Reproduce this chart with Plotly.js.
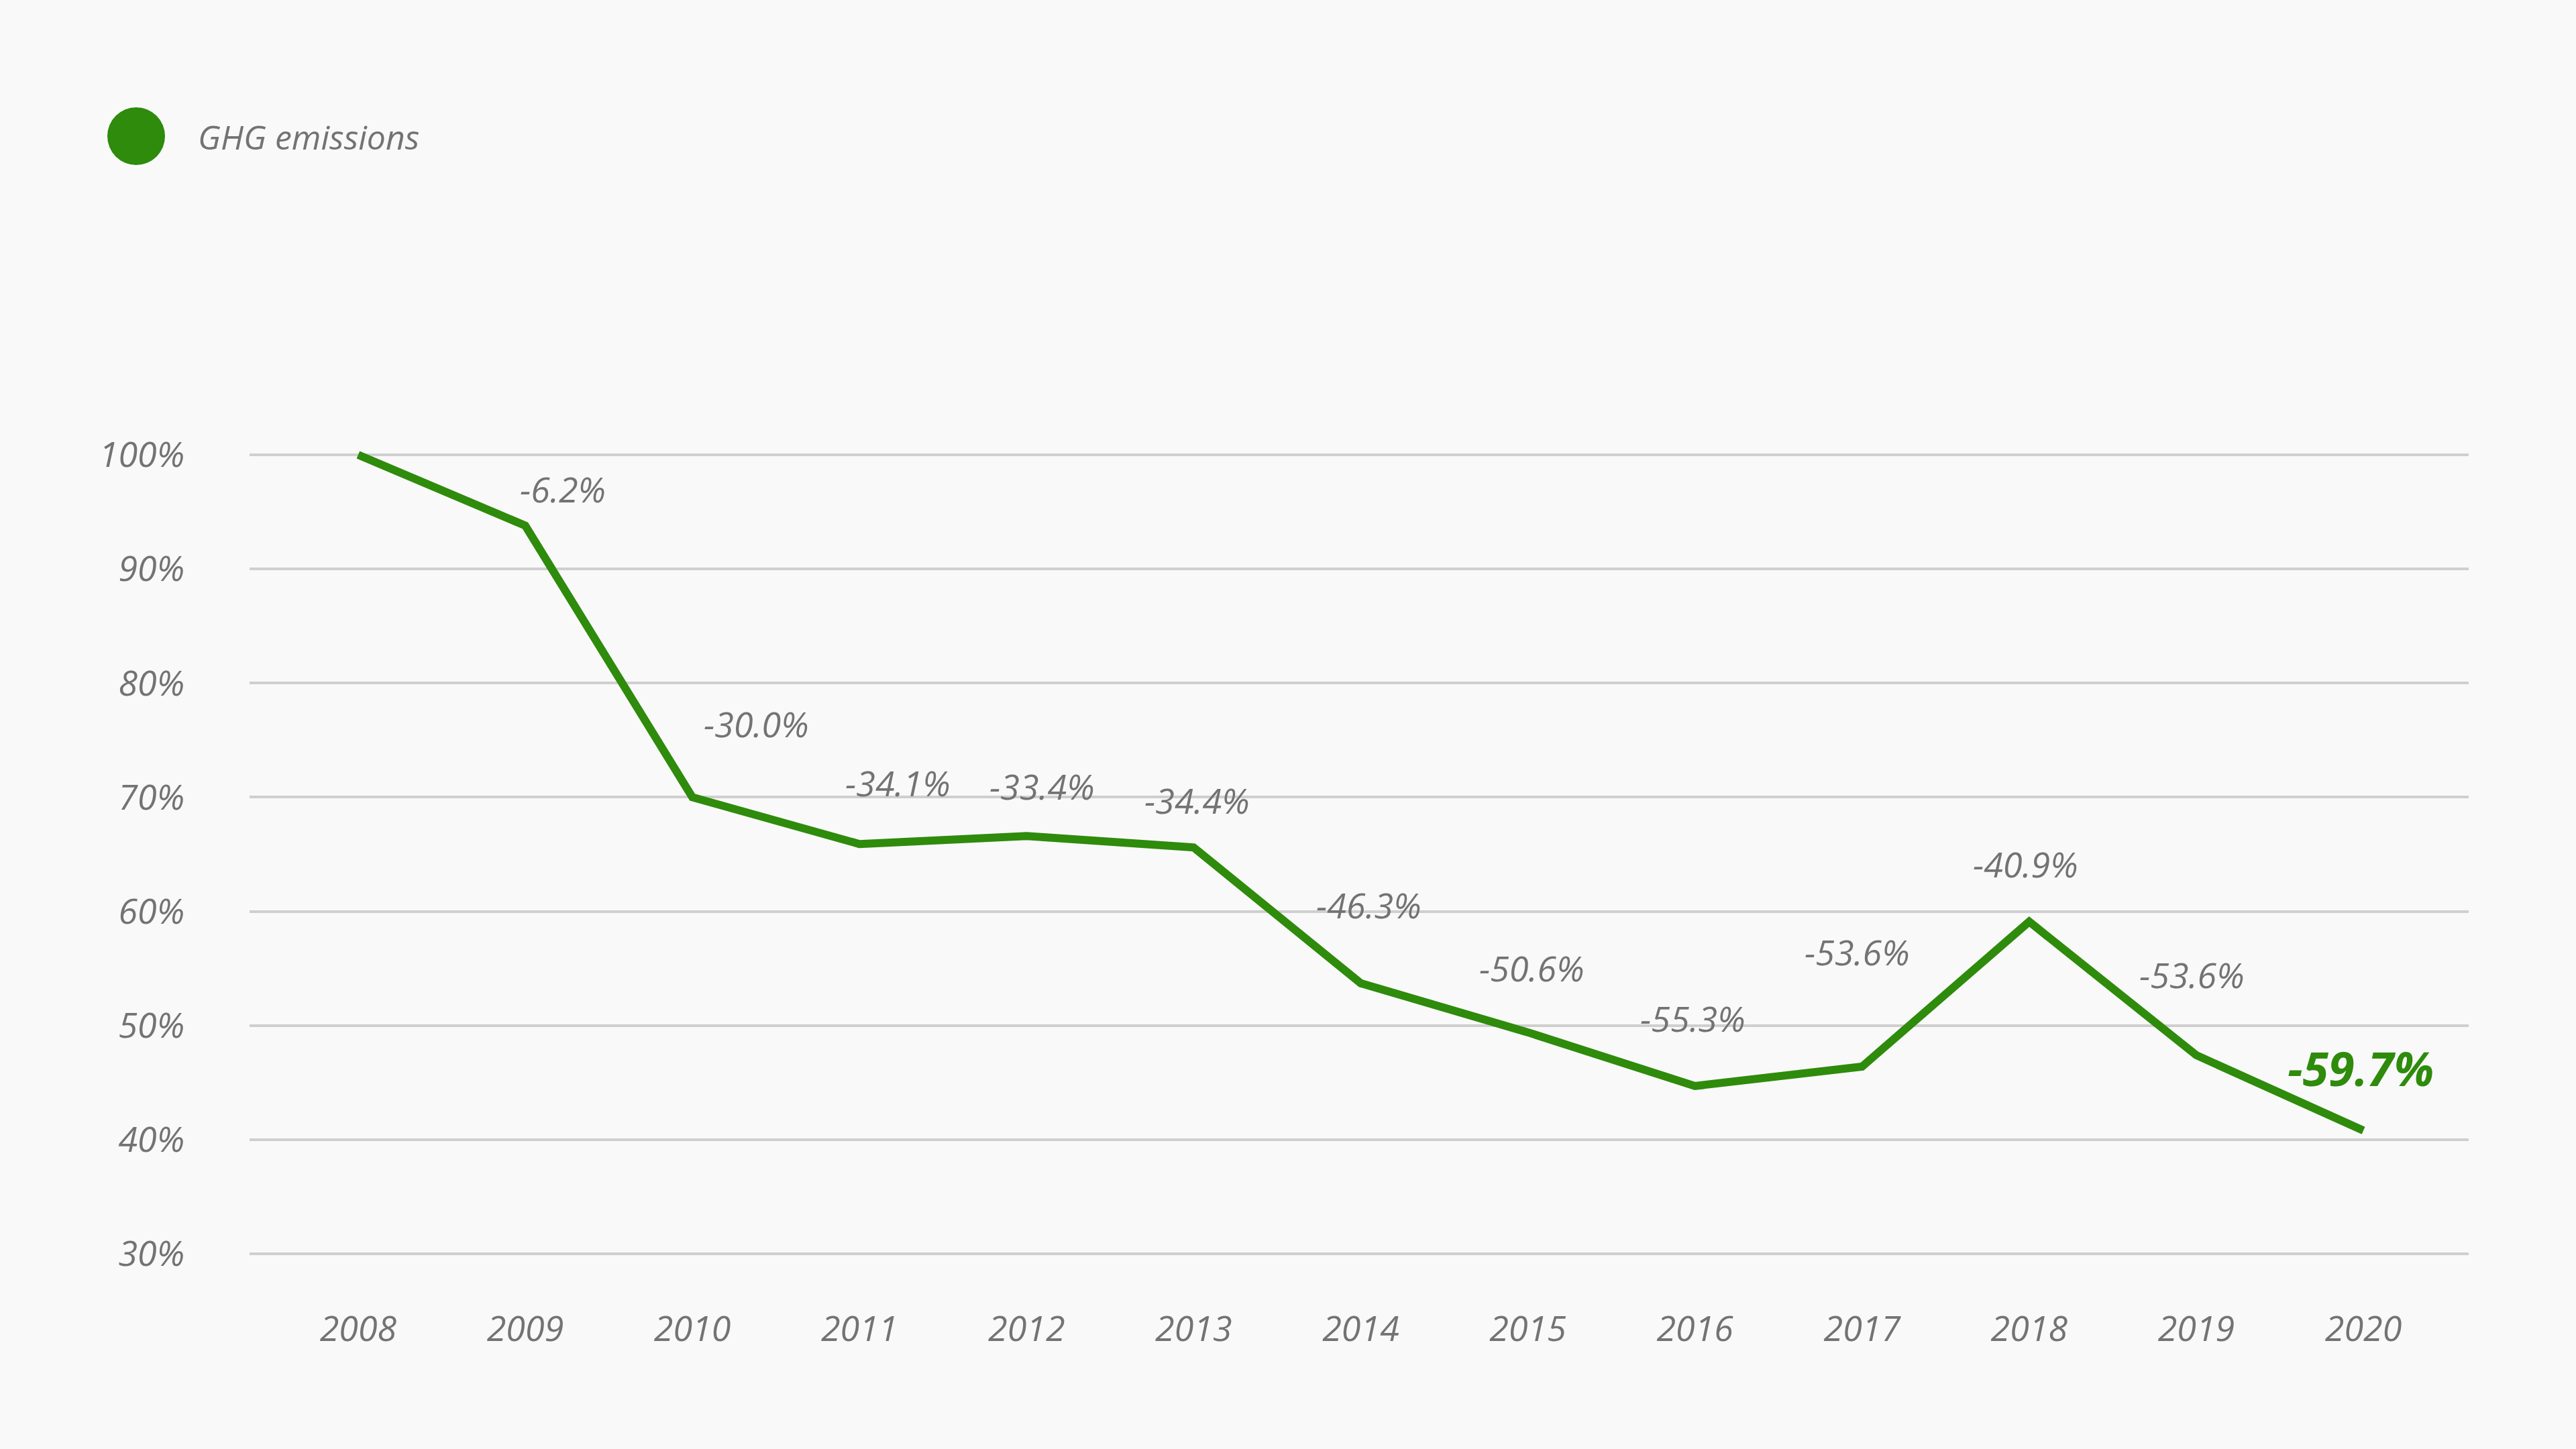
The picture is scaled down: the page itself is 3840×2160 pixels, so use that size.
<!DOCTYPE html>
<html>
<head>
<meta charset="utf-8">
<script src="https://cdn.plot.ly/plotly-3.0.1.min.js"></script>
<style>
  html, body { margin: 0; padding: 0; background: #f9f9f9; }
  #chart { width: 3840px; height: 2160px; }
</style>
</head>
<body>
<div id="chart"></div>
<script>
// ---- data ----
const years = [2008, 2009, 2010, 2011, 2012, 2013, 2014, 2015, 2016, 2017, 2018, 2019, 2020];
const emissionsIndex = [100, 93.8, 70.0, 65.9, 66.6, 65.6, 53.7, 49.4, 44.7, 46.4, 59.1, 47.4, 40.8];
const changeLabels = ["", "-6.2%", "-30.0%", "-34.1%", "-33.4%", "-34.4%", "-46.3%", "-50.6%", "-55.3%", "-53.6%", "-40.9%", "-53.6%", "-59.7%"];
const yTickValues = [30, 40, 50, 60, 70, 80, 90, 100];
const yTickLabels = ["30%", "40%", "50%", "60%", "70%", "80%", "90%", "100%"];
const seriesName = "GHG emissions";

// ---- styling (label placement offsets in pixels) ----
const labelShiftX = [0, 56, 95, 57, 23, 5, 12, 6, -3, -7, -5, -6, -4];
const labelShiftY = [0, 55, 110, 92, 75, 71, 117, 96, 101, 171, 86, 120, 93];

const GREEN = "#2e8b0b";
const GREY = "#737373";
const FONT = "Open Sans";

const W = 3840, H = 2160;
const mL = 372, mR = 160, mT = 627, mB = 240;
const plotW = W - mL - mR, plotH = H - mT - mB;
const px2paperX = p => (p - mL) / plotW;
const px2paperY = p => (H - mB - p) / plotH;

const annotations = [];
for (let i = 0; i < years.length; i++) {
  if (!changeLabels[i]) continue;
  const last = i === years.length - 1;
  annotations.push({
    x: years[i], y: emissionsIndex[i], xref: "x", yref: "y",
    text: changeLabels[i], showarrow: false,
    xanchor: "center", yanchor: "middle",
    xshift: labelShiftX[i], yshift: labelShiftY[i],
    font: last
      ? { family: FONT, size: 70, color: GREEN, style: "italic", weight: 700 }
      : { family: FONT, size: 52, color: GREY, style: "italic" }
  });
}
// legend text
annotations.push({
  x: px2paperX(293), y: px2paperY(204), xref: "paper", yref: "paper",
  text: seriesName, showarrow: false, xanchor: "left", yanchor: "middle",
  font: { family: FONT, size: 50, color: GREY, style: "italic" }
});

const shapes = [{
  type: "circle", xref: "paper", yref: "paper",
  xsizemode: "pixel", ysizemode: "pixel",
  xanchor: px2paperX(203), yanchor: px2paperY(203),
  x0: -43, x1: 43, y0: -43, y1: 43,
  fillcolor: GREEN, line: { width: 0 }
}];

const trace = {
  x: years, y: emissionsIndex, type: "scatter", mode: "lines",
  name: seriesName,
  line: { color: GREEN, width: 12, shape: "linear" },
  hoverinfo: "skip", showlegend: false
};

const layout = {
  width: W, height: H,
  paper_bgcolor: "#f9f9f9", plot_bgcolor: "#f9f9f9",
  margin: { l: mL, r: mR, t: mT, b: mB, pad: 0 },
  showlegend: false,
  xaxis: {
    range: [2007.35, 2020.63],
    tickvals: years, ticktext: years.map(String),
    showgrid: false, zeroline: false, showline: false, ticks: "",
    ticklabelstandoff: 26,
    tickfont: { family: FONT, size: 52, color: GREY, style: "italic" }
  },
  yaxis: {
    range: [27, 103],
    tickvals: yTickValues, ticktext: yTickLabels,
    showgrid: true, gridcolor: "#cfcfcf", gridwidth: 4,
    zeroline: false, showline: false, ticks: "",
    ticklabelstandoff: 96,
    tickfont: { family: FONT, size: 52, color: GREY, style: "italic" }
  },
  annotations: annotations,
  shapes: shapes
};

Plotly.newPlot("chart", [trace], layout, { displayModeBar: false, staticPlot: true });
</script>
</body>
</html>
